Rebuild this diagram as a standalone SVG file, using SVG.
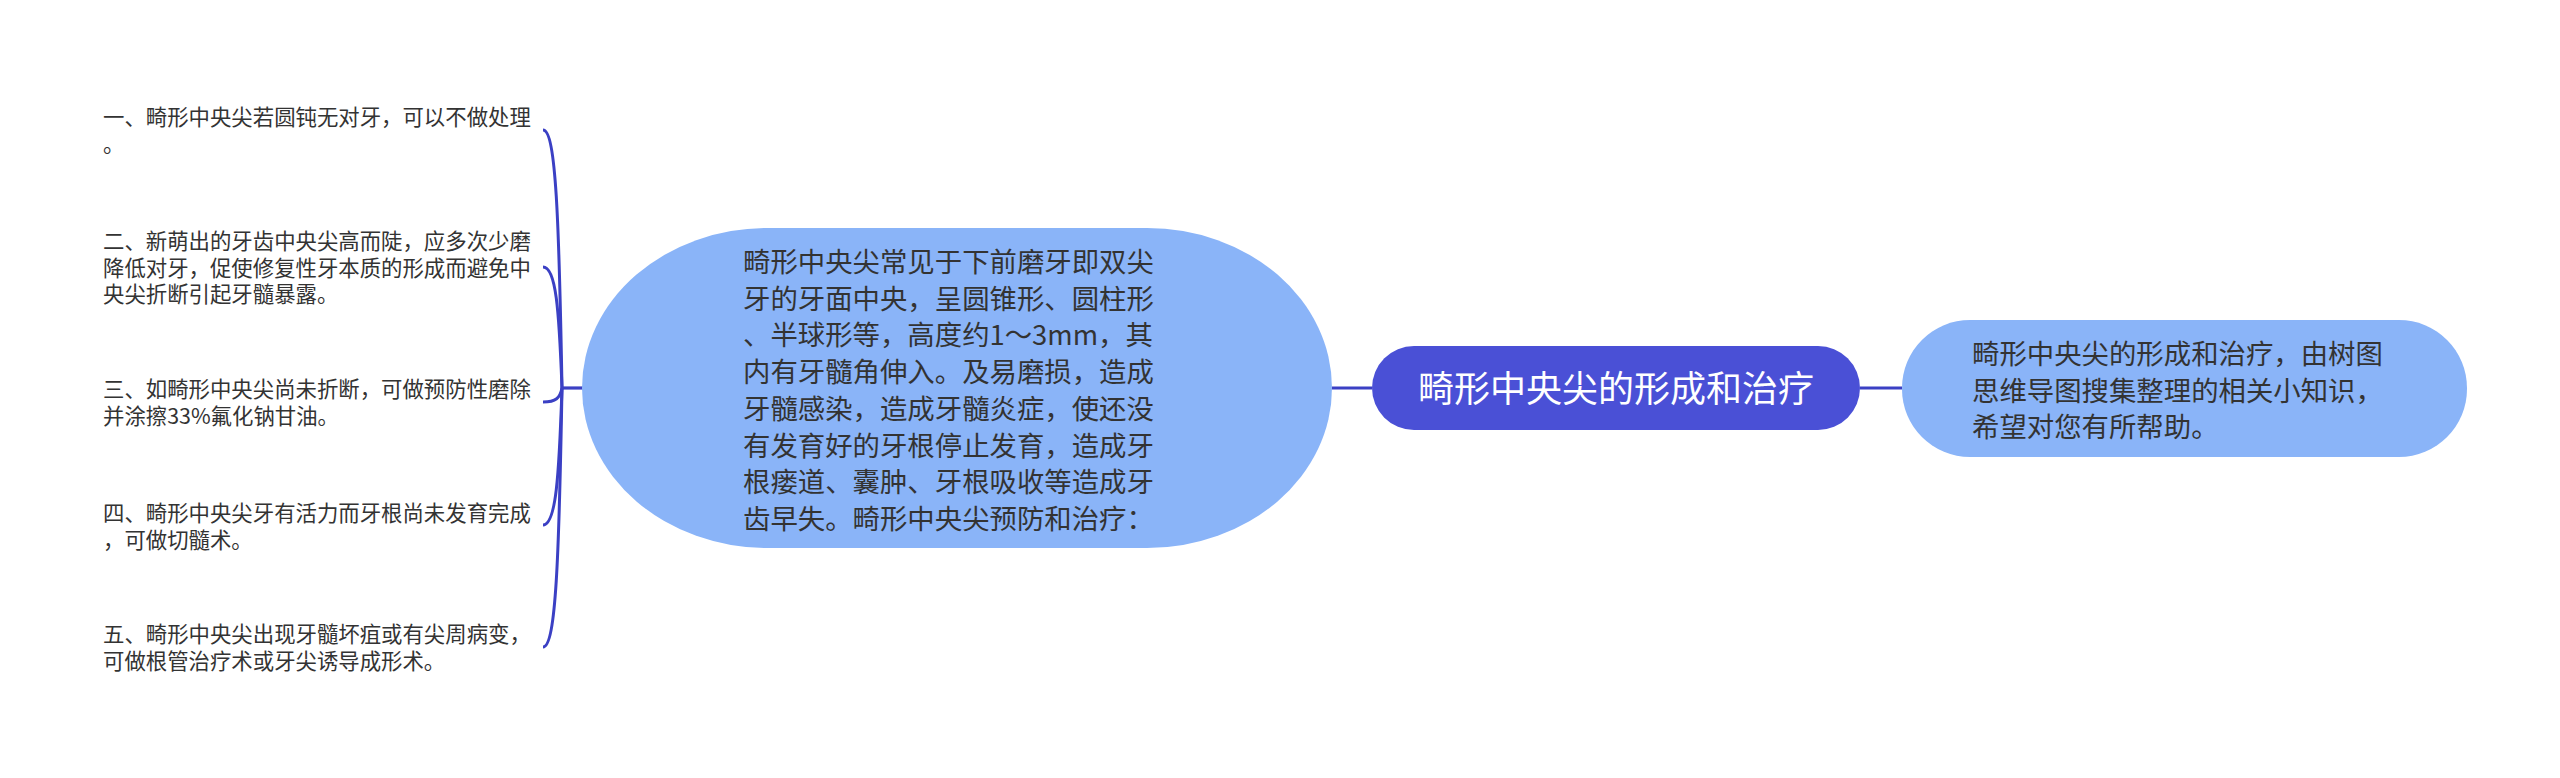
<svg xmlns="http://www.w3.org/2000/svg" width="2560" height="778" viewBox="0 0 2560 778">
<style>
.t{font-family:"Noto Sans CJK SC","Noto Sans",sans-serif;fill:#333333}
.leaf{font-size:21.4px}
.big{font-size:27.4px}
.ctr{font-size:36px;fill:#ffffff}
.ln{fill:none;stroke:#3b40c4;stroke-width:3.2}
.br{fill:none;stroke:#3b40c4;stroke-width:3}
</style>
<rect width="2560" height="778" fill="#ffffff"/>
<g id="connectors">
<path class="ln" d="M1332 388 L1372 388"/>
<path class="ln" d="M1860 388 L1902 388"/>
<path class="ln" d="M562 388 L583 388"/>
<path class="br" d="M543 130 C556 130, 559 220, 562 388"/>
<path class="br" d="M543 267 C556 267, 559 309, 562 388"/>
<path class="br" d="M543 402 C556 402, 560 398, 562 388"/>
<path class="br" d="M543 525 C556 525, 559 477, 562 388"/>
<path class="br" d="M543 647 C556 647, 559 557, 562 388"/>
</g>
<g id="node-center">
<rect x="1372" y="346" width="488" height="84" rx="42" ry="42" fill="#4a50d6"/>
<text class="t ctr" x="1616" y="402" text-anchor="middle">畸形中央尖的形成和治疗</text>
</g>
<g id="node-big">
<rect x="582" y="228" width="750" height="320" rx="185" ry="160" fill="#8ab4f8"/>
<text class="t big" x="743">
<tspan x="743" y="272">畸形中央尖常见于下前磨牙即双尖</tspan>
<tspan x="743" y="308.7">牙的牙面中央，呈圆锥形、圆柱形</tspan>
<tspan x="743" y="345.4">、半球形等，高度约1～3mm，其</tspan>
<tspan x="743" y="382.1">内有牙髓角伸入。及易磨损，造成</tspan>
<tspan x="743" y="418.8">牙髓感染，造成牙髓炎症，使还没</tspan>
<tspan x="743" y="455.5">有发育好的牙根停止发育，造成牙</tspan>
<tspan x="743" y="492.2">根瘘道、囊肿、牙根吸收等造成牙</tspan>
<tspan x="743" y="528.9">齿早失。畸形中央尖预防和治疗：</tspan>
</text>
</g>
<g id="node-right">
<rect x="1902" y="320" width="565" height="137" rx="68" ry="68" fill="#8ab4f8"/>
<text class="t big">
<tspan x="1972" y="364">畸形中央尖的形成和治疗，由树图</tspan>
<tspan x="1972" y="400.7">思维导图搜集整理的相关小知识，</tspan>
<tspan x="1972" y="437.4">希望对您有所帮助。</tspan>
</text>
</g>
<g id="leaf-1">
<text class="t leaf">
<tspan x="103" y="125">一、畸形中央尖若圆钝无对牙，可以不做处理</tspan>
<tspan x="103" y="151.7">。</tspan>
</text>
</g>
<g id="leaf-2">
<text class="t leaf">
<tspan x="103" y="249">二、新萌出的牙齿中央尖高而陡，应多次少磨</tspan>
<tspan x="103" y="275.7">降低对牙，促使修复性牙本质的形成而避免中</tspan>
<tspan x="103" y="302.4">央尖折断引起牙髓暴露。</tspan>
</text>
</g>
<g id="leaf-3">
<text class="t leaf">
<tspan x="103" y="397">三、如畸形中央尖尚未折断，可做预防性磨除</tspan>
<tspan x="103" y="423.7">并涂擦33%氟化钠甘油。</tspan>
</text>
</g>
<g id="leaf-4">
<text class="t leaf">
<tspan x="103" y="521">四、畸形中央尖牙有活力而牙根尚未发育完成</tspan>
<tspan x="103" y="547.7">，可做切髓术。</tspan>
</text>
</g>
<g id="leaf-5">
<text class="t leaf">
<tspan x="103" y="642">五、畸形中央尖出现牙髓坏疽或有尖周病变，</tspan>
<tspan x="103" y="668.7">可做根管治疗术或牙尖诱导成形术。</tspan>
</text>
</g>
</svg>
